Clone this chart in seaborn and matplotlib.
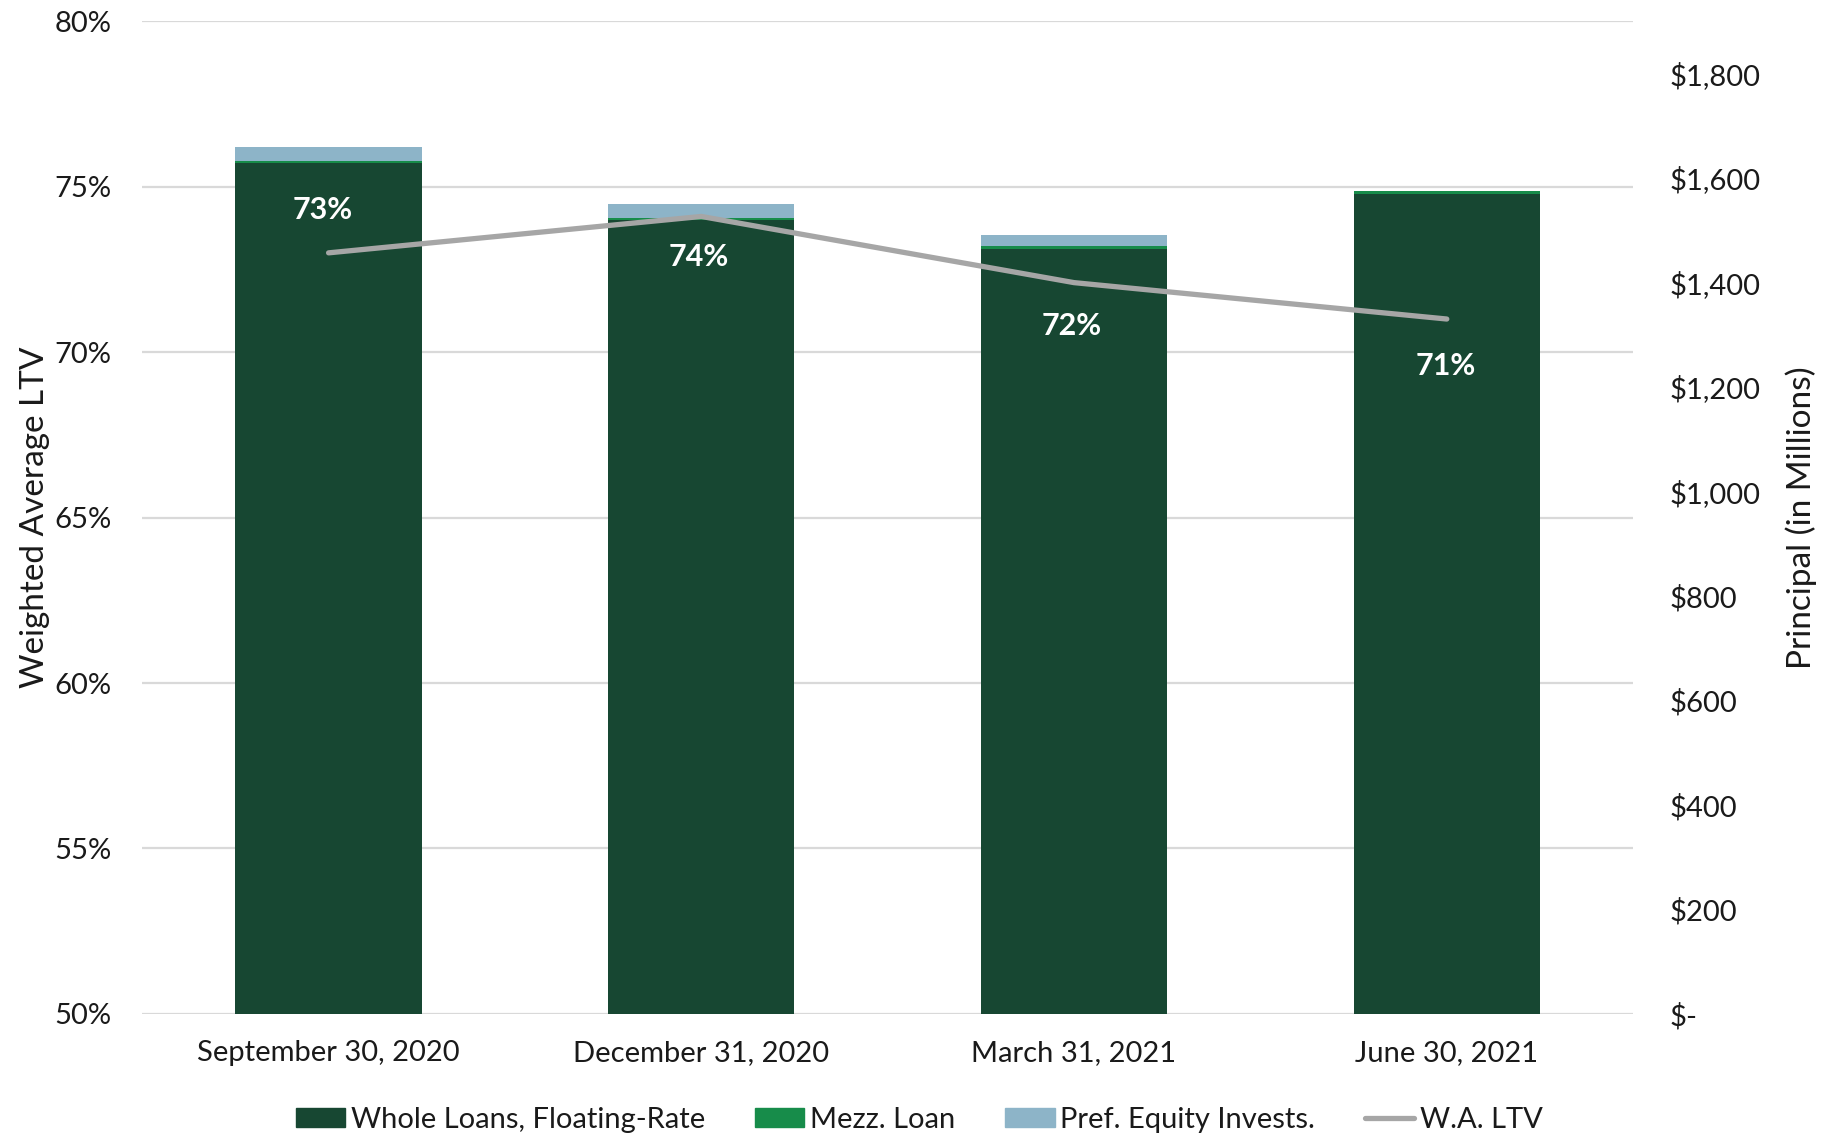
import matplotlib
matplotlib.use("Agg")
import matplotlib.pyplot as plt
import matplotlib.ticker as mticker
from matplotlib.patches import Patch
from matplotlib.lines import Line2D
import pandas as pd
import seaborn as sns

# data
quarters = ["September 30, 2020", "December 31, 2020", "March 31, 2021", "June 30, 2021"]
whole_loans = [1628, 1519, 1464, 1570]   # $M, floating-rate whole loans
mezz_loan = [5, 4, 5, 5]                 # $M
pref_equity = [27, 28, 22, 0]            # $M
wa_ltv = [73.0, 74.1, 72.1, 71.0]        # %
ltv_labels = ["73%", "74%", "72%", "71%"]

DARK = "#174732"
MEZZ = "#178C4A"
PREF = "#8DB4C8"
LINE = "#A6A6A6"
GRID = "#D9D9D9"
TXT = "#1a1a1a"

sns.set_theme(style="white")
plt.rcParams["font.family"] = ["Lato", "DejaVu Sans"]

df = pd.DataFrame({"quarter": quarters, "whole": whole_loans,
                   "mezz": mezz_loan, "pref": pref_equity, "ltv": wa_ltv})
df["whole_mezz"] = df["whole"] + df["mezz"]
df["total"] = df["whole_mezz"] + df["pref"]

fig = plt.figure(figsize=(18.35, 11.35), dpi=100)
ax = fig.add_axes([0.0775, 0.1067, 0.8125, 0.8746])  # LTV axis (grid + left ticks)
ax_bar = ax.twinx()                                    # principal axis (bars)
ax_line = ax.twinx()                                   # LTV line on top of bars

# stacked bars: draw cumulative totals, largest first
sns.barplot(data=df, x="quarter", y="total", color=PREF, width=0.5,
            saturation=1, ax=ax_bar, linewidth=0)
sns.barplot(data=df, x="quarter", y="whole_mezz", color=MEZZ, width=0.5,
            saturation=1, ax=ax_bar, linewidth=0)
sns.barplot(data=df, x="quarter", y="whole", color=DARK, width=0.5,
            saturation=1, ax=ax_bar, linewidth=0)

sns.lineplot(x=list(range(len(quarters))), y=wa_ltv, color=LINE, linewidth=3.8,
             ax=ax_line, solid_capstyle="round")

ax.set_ylim(50, 80)
ax_line.set_ylim(50, 80)
ax_bar.set_ylim(0, 1900)
ax.set_xlim(-0.5, 3.5)

# category labels on the visible x axis
ax.set_xticks(range(len(quarters)))
ax.set_xticklabels(quarters)
ax.tick_params(axis="x", labelsize=21, colors=TXT, length=0, pad=19)

# left axis: percentages with gridlines
ax.yaxis.set_major_locator(mticker.MultipleLocator(5))
ax.yaxis.set_major_formatter(mticker.FuncFormatter(lambda v, p: f"{v:.0f}%"))
ax.grid(axis="y", color=GRID, linewidth=1.6)
ax.grid(axis="x", visible=False)
ax.tick_params(axis="y", labelsize=21, colors=TXT, length=0, pad=22)
ax.set_ylabel("Weighted Average LTV", fontsize=24, color=TXT)
ax.yaxis.set_label_coords(-0.062, 0.5)

# right axis: principal
ax_bar.yaxis.set_major_locator(mticker.FixedLocator(range(0, 1801, 200)))
ax_bar.yaxis.set_major_formatter(
    mticker.FuncFormatter(lambda v, p: "$-" if v == 0 else f"${v:,.0f}"))
ax_bar.tick_params(axis="y", labelsize=21, colors=TXT, length=0, pad=26)
ax_bar.set_ylabel("Principal (in Millions)", fontsize=24, color=TXT)
ax_bar.yaxis.set_label_coords(1.102, 0.5)
ax_bar.set_xlabel("")
ax_bar.grid(False)

ax_line.set_yticks([])
ax_line.set_ylabel("")
ax_line.grid(False)

for a in (ax, ax_bar, ax_line):
    for s in a.spines.values():
        s.set_visible(False)

# data labels for the LTV line
label_dy = [31, -29, -31, -34]
label_dx = [-4, -2, -2, -1]
for i, txt in enumerate(ltv_labels):
    ax_line.annotate(txt, (i, wa_ltv[i]), xytext=(label_dx[i], label_dy[i]),
                     textcoords="offset points", ha="center", va="center",
                     color="white", fontsize=22, fontweight="bold")

handles = [Patch(color=DARK), Patch(color=MEZZ), Patch(color=PREF),
           Line2D([], [], color=LINE, linewidth=3.8, solid_capstyle="round")]
names = ["Whole Loans, Floating-Rate", "Mezz. Loan", "Pref. Equity Invests.", "W.A. LTV"]
fig.legend(handles, names, loc="center", bbox_to_anchor=(0.501, 0.0135), ncol=4,
           frameon=False, fontsize=21, handlelength=1.7, handleheight=0.65,
           handletextpad=0.2, columnspacing=1.7, labelcolor=TXT)

fig.savefig("out.png", dpi=100)
